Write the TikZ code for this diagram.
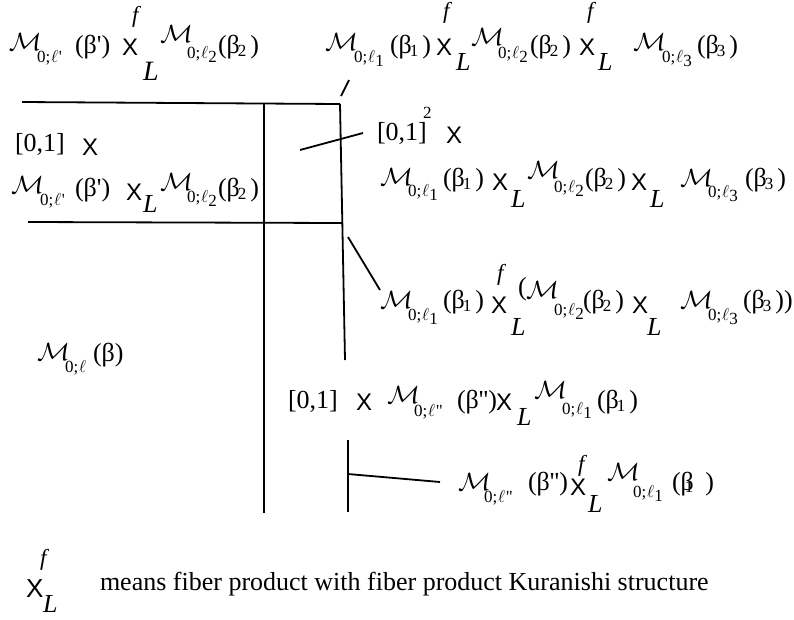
\documentclass[tikz,border=0pt]{standalone}
\usepackage{fontspec}
\setmainfont{Liberation Serif}
\newfontfamily\sfx{Liberation Sans}
\newcommand{\mf}{\fontsize{26}{28}\selectfont}
\newcommand{\sbf}{\fontsize{17}{17}\selectfont}
\newcommand{\Mc}{\scalebox{1.1}[1]{\fontsize{24}{24}\selectfont$\mathcal{M}$}}
\newcommand{\Sb}[1]{{\sbf 0;\kern1pt$\ell$\raisebox{-4pt}{#1}}}
\newcommand{\Sp}[1]{{\sbf 0;\kern1pt$\ell$\kern0.5pt#1}}
\newcommand{\Xg}{{\fontsize{24}{24}\selectfont\sfx X}}
\newcommand{\fg}{{\fontsize{23}{23}\selectfont\itshape f}}
\newcommand{\Lg}{{\fontsize{26}{26}\selectfont\itshape L}}
\newcommand{\bb}[1]{β\kern-2pt\raisebox{-3pt}{\sbf #1}}
\newcommand{\pb}[1]{(\bb{#1}\kern4pt)}
\begin{document}
\begin{tikzpicture}[x=1pt,y=-1pt,
  t/.style={anchor=base west, inner sep=0pt, outer sep=0pt, font=\mf},
  ln/.style={line width=1.8pt}]
\useasboundingbox (0,0) rectangle (794,619);
% ---------- lines ----------
\coordinate (h1a) at (22,102); \coordinate (h1b) at (340,104);
\coordinate (v1a) at (264,104); \coordinate (v1b) at (264,513);
\coordinate (v2b) at (345,360);
\coordinate (h2a) at (28,222); \coordinate (h2b) at (343,223);
\coordinate (s1a) at (341,96); \coordinate (s1b) at (349,80);
\coordinate (s2a) at (300,150); \coordinate (s2b) at (363,133);
\coordinate (s3a) at (348,237); \coordinate (s3b) at (380,290);
\coordinate (v3a) at (348,440); \coordinate (v3b) at (348,512);
\coordinate (s4a) at (348,474); \coordinate (s4b) at (440,482);
\draw[ln] (h1a) -- (h1b);
\draw[ln] (v1a) -- (v1b);
\draw[ln] (h1b) -- (v2b);
\draw[ln] (h2a) -- (h2b);
\draw[ln] (s1a) -- (s1b);
\draw[ln] (s2a) -- (s2b);
\draw[ln] (s3a) -- (s3b);
\draw[ln] (v3a) -- (v3b);
\draw[ln] (s4a) -- (s4b);
% ---------- line A ----------
\node[t] (a1) at (9,50) {\Mc};
\node[t] (a2) at (37,62) {\Sp{\textquotesingle}};
\node[t] (a3) at (75,53) {(β\textquotesingle)};
\node[t] (a4) at (122,55) {\Xg};
\node[t] (a5) at (132,22) {\fg};
\node[t] (a6) at (143,80) {\fontsize{28}{28}\selectfont\itshape L};
\node[t] (a7) at (160,42) {\Mc};
\node[t] (a8) at (187,58) {\Sb{2}};
\node[t] (a9) at (218,53) {\pb{2}};
% ---------- line B ----------
\node[t] (b1) at (325,50) {\Mc};
\node[t] (b2) at (354,62) {\Sb{1}};
\node[t] (b3) at (390,53) {\pb{1}};
\node[t] (b4) at (436,55) {\Xg};
\node[t] (b5) at (443,18) {\fg};
\node[t] (b6) at (456,70) {\Lg};
\node[t] (b7) at (471,45) {\Mc};
\node[t] (b8) at (498,58) {\Sb{2}};
\node[t] (b9) at (530,53) {\pb{2}};
\node[t] (b10) at (579,55) {\Xg};
\node[t] (b11) at (587,18) {\fg};
\node[t] (b12) at (598,70) {\Lg};
\node[t] (b13) at (633,50) {\Mc};
\node[t] (b14) at (662,62) {\Sb{3}};
\node[t] (b15) at (697,53) {\pb{3}};
% ---------- line C / D ----------
\node[t] (c1) at (15,151) {[0,1]};
\node[t] (c2) at (82,155) {\Xg};
\node[t] (d1) at (11,193) {\Mc};
\node[t] (d2) at (40,205) {\Sp{\textquotesingle}};
\node[t] (d3) at (75,196) {(β\textquotesingle)};
\node[t] (d4) at (126,200) {\Xg};
\node[t] (d5) at (143,212) {\Lg};
\node[t] (d6) at (160,190) {\Mc};
\node[t] (d7) at (187,202) {\Sb{2}};
\node[t] (d8) at (218,196) {\pb{2}};
% ---------- line E / F ----------
\node[t] (e1) at (377,140) {[0,1]};
\node[t] (e2) at (423,118) {\sbf 2};
\node[t] (e3) at (446,143) {\Xg};
\node[t] (f1) at (380,185) {\Mc};
\node[t] (f2) at (408,196) {\Sb{1}};
\node[t] (f3) at (443,186) {\pb{1}};
\node[t] (f4) at (492,190) {\Xg};
\node[t] (f5) at (511,207) {\Lg};
\node[t] (f6) at (527,178) {\Mc};
\node[t] (f7) at (554,192) {\Sb{2}};
\node[t] (f8) at (585,186) {\pb{2}};
\node[t] (f9) at (631,190) {\Xg};
\node[t] (f10) at (650,207) {\Lg};
\node[t] (f11) at (680,186) {\Mc};
\node[t] (f12) at (708,197) {\Sb{3}};
\node[t] (f13) at (745,186) {\pb{3}};
% ---------- line G ----------
\node[t] (g1) at (380,308) {\Mc};
\node[t] (g2) at (408,320) {\Sb{1}};
\node[t] (g3) at (443,308) {\pb{1}};
\node[t] (g4) at (491,313) {\Xg};
\node[t] (g5) at (497,280) {\fg};
\node[t] (g6) at (511,335) {\Lg};
\node[t] (g7) at (518,295) {(};
\node[t] (g8) at (526,298) {\Mc};
\node[t] (g9) at (554,315) {\Sb{2}};
\node[t] (g10) at (583,308) {\pb{2}};
\node[t] (g11) at (632,313) {\Xg};
\node[t] (g12) at (647,335) {\Lg};
\node[t] (g13) at (680,308) {\Mc};
\node[t] (g14) at (708,320) {\Sb{3}};
\node[t] (g15) at (743,308) {(\bb{3}\kern4pt))};
% ---------- line H ----------
\node[t] (h1) at (37,360) {\Mc};
\node[t] (h2) at (65,372) {{\sbf 0;\kern1pt$\ell$}};
\node[t] (h3) at (93,361) {(β)};
% ---------- line I ----------
\node[t] (i1) at (288,408) {[0,1]};
\node[t] (i2) at (356,410) {\Xg};
\node[t] (i3) at (387,403) {\Mc};
\node[t] (i4) at (414,416) {\Sp{\textquotedbl}};
\node[t] (i5) at (457,408) {(β\textquotesingle\textquotesingle)};
\node[t] (i6) at (496,410) {\Xg};
\node[t] (i7) at (517,425) {\Lg};
\node[t] (i8) at (534,398) {\Mc};
\node[t] (i9) at (562,414) {\Sb{1}};
\node[t] (i10) at (597,408) {\pb{1}};
% ---------- line J ----------
\node[t] (j1) at (458,490) {\Mc};
\node[t] (j2) at (484,502) {\Sp{\textquotedbl}};
\node[t] (j3) at (528,490) {(β\textquotesingle\textquotesingle)};
\node[t] (j4) at (570,495) {\Xg};
\node[t] (j5) at (578,471) {\fg};
\node[t] (j6) at (588,512) {\Lg};
\node[t] (j7) at (607,480) {\Mc};
\node[t] (j8) at (633,497) {\Sb{1}};
\node[t] (j9) at (672,490) {(β\kern-9pt\raisebox{-2pt}{\sbf 1}\kern12pt)};
% ---------- legend ----------
\node[t] (k1) at (26,597) {{\fontsize{26}{26}\selectfont\sfx X}};
\node[t] (k2) at (40,565) {\fg};
\node[t] (k3) at (43,612) {\Lg};
\node[t] (k4) at (100,590) {means fiber product with fiber product Kuranishi structure};
\end{tikzpicture}
\end{document}
